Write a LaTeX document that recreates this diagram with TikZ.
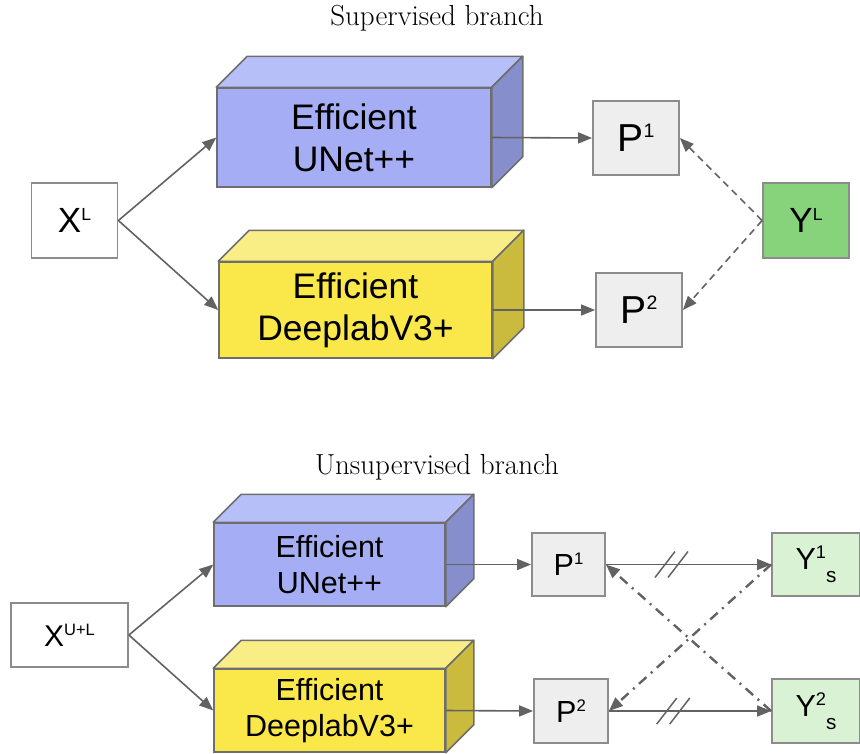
\documentclass[tikz,border=0pt]{standalone}
\usepackage{fontspec}
\usepackage{graphicx}
\usetikzlibrary{arrows.meta}
\newfontfamily\netfont{Liberation Sans}
\newcommand{\supl}[2][0.5]{\raisebox{0.36em}{\scalebox{#1}{#2}}}
\newcommand{\subl}[2][0.68]{\raisebox{-0.42em}{\scalebox{#1}{#2}}}
\definecolor{linegray}{RGB}{98,98,98}
\definecolor{edgegray}{RGB}{110,110,110}
\definecolor{blufront}{RGB}{165,174,244}
\definecolor{blutop}{RGB}{183,191,248}
\definecolor{bluside}{RGB}{134,142,204}
\definecolor{yelfront}{RGB}{250,232,74}
\definecolor{yeltop}{RGB}{249,238,134}
\definecolor{yelside}{RGB}{202,187,62}
\definecolor{pgray}{RGB}{238,238,238}
\definecolor{ygreen}{RGB}{134,211,123}
\definecolor{ylight}{RGB}{218,242,212}
\begin{document}
\begin{tikzpicture}[x=1pt, y=-1pt, >={Triangle[length=14pt,width=11pt]},
	netbox/.style={draw=edgegray, line width=1.5pt, align=center, inner sep=0pt},
	databox/.style={draw=gray!90, line width=1.8pt, inner sep=0pt, text=black},
	conn/.style={draw=linegray, line width=1.6pt, ->},
	labelconn/.style={conn, dash pattern=on 7pt off 5pt},
	crossconn/.style={conn, line width=2.4pt, dash pattern=on 10pt off 6pt on 2pt off 6pt},
	tickline/.style={draw=linegray, line width=1.5pt}]
	
	\useasboundingbox (0,0) rectangle (860,753);
	
	\node (supTitle) at (437,18) {\fontsize{29}{33}\selectfont Supervised branch};
	\node (unsupTitle) at (437,467) {\fontsize{29}{33}\selectfont Unsupervised branch};
	
	\begin{scope}[font=\netfont\fontsize{35}{42}\selectfont]
		\node[databox, fill=white, minimum width=86pt, minimum height=75pt] (xl) at (74.5,220.5) {X\supl{L}};
		\node[databox, fill=pgray, minimum width=86pt, minimum height=74pt, font=\netfont\fontsize{39}{42}\selectfont] (p1) at (636,138) {P\supl{1}};
		\node[databox, fill=pgray, minimum width=86pt, minimum height=74pt, font=\netfont\fontsize{39}{42}\selectfont] (p2) at (639,310) {P\supl{2}};
		\node[databox, fill=ygreen, minimum width=86pt, minimum height=75pt] (yl) at (806,220.5) {Y\supl{L}};
		
		\node[netbox, fill=blufront, minimum width=274pt, minimum height=99pt, font=\netfont\fontsize{35.5}{42}\selectfont] (unet) at (354,137.5) {Efficient\\UNet++};
		\node[netbox, fill=yelfront, minimum width=273pt, minimum height=96pt, font=\netfont\fontsize{35.5}{42}\selectfont] (deeplab) at (355.5,310) {Efficient\\DeeplabV3+};
	\end{scope}
	
	\begin{scope}[font=\netfont\fontsize{30.5}{36}\selectfont]
		\node[databox, fill=white, minimum width=117pt, minimum height=64pt, font=\netfont\fontsize{30}{36}\selectfont] (xul) at (69.5,635) {X\supl[0.55]{U+L}};
		\node[databox, fill=pgray, minimum width=73pt, minimum height=63pt] (q1) at (568.5,564.5) {P\supl[0.55]{1}};
		\node[databox, fill=pgray, minimum width=74pt, minimum height=64pt] (q2) at (571,711) {P\supl[0.55]{2}};
		\node[databox, fill=ylight, minimum width=88pt, minimum height=63pt] (y1s) at (816,564.5) {Y\supl[0.6]{1}\subl{s}};
		\node[databox, fill=ylight, minimum width=88pt, minimum height=64pt] (y2s) at (816,711) {Y\supl[0.6]{2}\subl{s}};
		
		\node[netbox, fill=blufront, minimum width=231pt, minimum height=83pt] (unetb) at (329.5,564.5) {Efficient\\UNet++};
		\node[netbox, fill=yelfront, minimum width=231pt, minimum height=83pt] (deeplabb) at (329.5,710.5) {Efficient\\DeeplabV3+};
	\end{scope}
	
	\foreach \n/\c/\d in {unet/blu/31, deeplab/yel/31, unetb/blu/28, deeplabb/yel/28}{
		\draw[draw=edgegray, line width=1.5pt, line join=round, fill=\c top]
		(\n.north west) -- ++(\d,-\d) -- ([shift={(\d,-\d)}]\n.north east) -- (\n.north east) -- cycle;
		\draw[draw=edgegray, line width=1.5pt, line join=round, fill=\c side]
		(\n.north east) -- ++(\d,-\d) -- ([shift={(\d,-\d)}]\n.south east) -- (\n.south east) -- cycle;
	}
	
	\draw[conn] (xl.east) -- (unet.west);
	\draw[conn] (xl.east) -- (deeplab.west);
	\draw[conn] (unet.east) -- (p1.west);
	\draw[conn] (deeplab.east) -- (p2.west);
	\draw[labelconn] (yl.west) -- (p1.east);
	\draw[labelconn] (yl.west) -- (p2.east);
	
	\draw[conn] (xul.east) -- (unetb.west);
	\draw[conn] (xul.east) -- (deeplabb.west);
	\draw[conn] (unetb.east) -- (q1.west);
	\draw[conn] (deeplabb.east) -- (q2.west);
	\draw[conn] (q1.east) -- coordinate[pos=0.4] (cut1) (y1s.west);
	\draw[conn] (q2.east) -- coordinate[pos=0.4] (cut2) (y2s.west);
	\draw[crossconn] (y1s.west) -- (q2.east);
	\draw[crossconn] (y2s.west) -- (q1.east);
	
	\foreach \m in {cut1, cut2}{
		\draw[tickline] ([shift={(-17,13)}]\m) -- ++(20,-26)
		([shift={(-4,13)}]\m) -- ++(20,-26);
	}
	
\end{tikzpicture}
\end{document}
